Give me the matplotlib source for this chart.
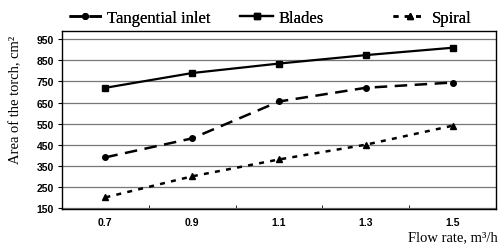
import matplotlib
matplotlib.use("Agg")
import matplotlib.pyplot as plt
import numpy as np

flow_rates = ["0.7", "0.9", "1.1", "1.3", "1.5"]
tangential = [390, 480, 655, 720, 745]
blades = [720, 790, 835, 875, 910]
spiral = [200, 300, 380, 450, 540]
y_ticks = [150, 250, 350, 450, 550, 650, 750, 850, 950]

fig = plt.figure(figsize=(5.04, 2.53), dpi=100)
ax = fig.add_axes([0.123, 0.170, 0.861, 0.704])

x = np.arange(len(flow_rates))
l1, = ax.plot(x, tangential, color="black", lw=1.8, ls=(0, (5, 3)), marker="o", ms=4,
              label="Tangential inlet")
l2, = ax.plot(x, blades, color="black", lw=1.6, ls="-", marker="s", ms=4,
              label="Blades")
l3, = ax.plot(x, spiral, color="black", lw=1.8, ls=(0, (2, 2.5)), marker="^", ms=5,
              label="Spiral")

ax.set_xlim(-0.5, len(flow_rates) - 0.5)
ax.set_ylim(145, 990)
ax.set_yticks(y_ticks)
ax.set_xticks(x)
ax.set_xticklabels(flow_rates)
ax.set_xticks(np.arange(len(flow_rates)) + 0.5, minor=True)
ax.tick_params(axis="x", which="major", length=0, pad=6)
ax.tick_params(axis="x", which="minor", length=3, direction="in")
ax.tick_params(axis="y", length=3, pad=3)
for lab in ax.get_xticklabels() + ax.get_yticklabels():
    lab.set_fontfamily("Liberation Sans")
    lab.set_fontweight("bold")
    lab.set_fontsize(7.5)

ax.grid(axis="y", color="#777777", lw=0.9)
ax.set_axisbelow(True)
for s in ax.spines.values():
    s.set_linewidth(1.0)

fig.text(0.032, 0.605, "Area of the torch, cm²", family="Liberation Serif", fontsize=10.5,
         rotation=90, ha="center", va="center")
fig.text(0.988, 0.062, "Flow rate, m³/h", family="Liberation Serif", fontsize=10.5,
         ha="right", va="center")

# three legend entries, placed one by one like in the original
leg_font = {"family": "Liberation Serif", "size": 12}
for line, xpos in [(l1, 0.136), (l2, 0.476), (l3, 0.780)]:
    leg = fig.legend(handles=[line], loc="center left", bbox_to_anchor=(xpos, 0.926),
                     frameon=False, prop=leg_font, handlelength=2.0,
                     handletextpad=0.3, borderaxespad=0, borderpad=0)
    fig.add_artist(leg)

fig.savefig("out.png", dpi=100)
